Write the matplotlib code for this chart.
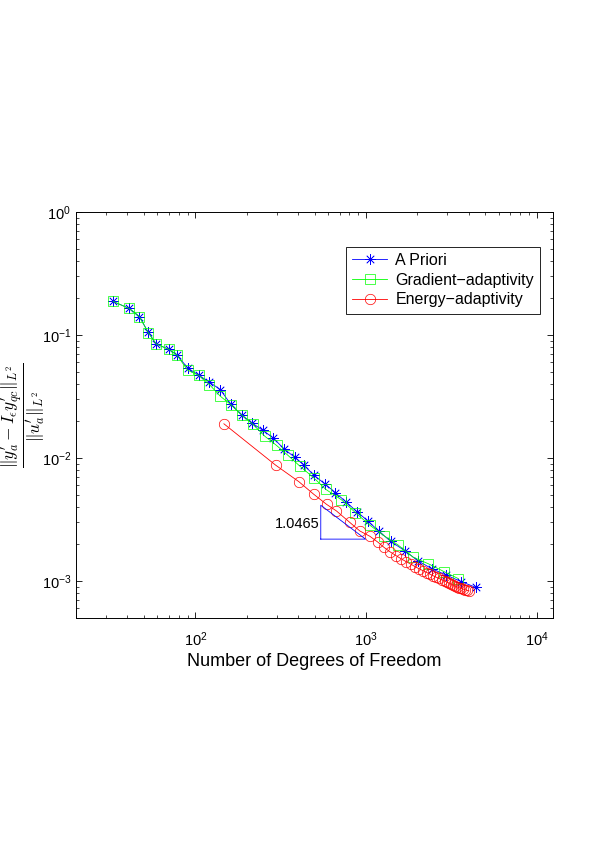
import numpy as np
import matplotlib.pyplot as plt
from matplotlib.ticker import LogLocator, NullFormatter

plt.rcParams['font.family'] = ['Liberation Sans', 'DejaVu Sans']
plt.rcParams['mathtext.fontset'] = 'cm'

# A Priori
dof_priori = [33, 41, 47, 53, 59, 70, 78, 90, 105, 121, 140, 161, 187, 214, 249, 285,
              330, 381, 434, 496, 573, 661, 764, 883, 1029, 1192, 1394, 1689, 2013,
              2422, 2938, 3597, 4406]
err_priori = [0.1873, 0.1643, 0.1413, 0.1050, 0.0845, 0.0764, 0.0688, 0.0541, 0.0469,
              0.0414, 0.0360, 0.0274, 0.02237, 0.01933, 0.01674, 0.01461, 0.01189,
              0.01017, 0.00871, 0.00723, 0.00617, 0.00523, 0.00439, 0.00367, 0.00306,
              0.00253, 0.00210, 0.00176, 0.00146, 0.00126, 0.00112, 0.00099, 0.000887]

# Gradient-adaptivity
dof_grad = [33, 41, 47, 53, 59, 70, 78, 90, 105, 121, 140, 161, 187, 218, 255, 299,
            349, 409, 494, 581, 718, 866, 1053, 1277, 1543, 1889, 2319, 2871, 3469]
err_grad = [0.1873, 0.1643, 0.1413, 0.1045, 0.0845, 0.0764, 0.0688, 0.0518, 0.0469,
            0.0395, 0.0318, 0.0272, 0.0223, 0.01873, 0.01505, 0.01265, 0.0105, 0.0086,
            0.0069, 0.00556, 0.00457, 0.0036, 0.00284, 0.00233, 0.00196, 0.00156,
            0.00138, 0.00119, 0.001046]

# Energy-adaptivity
dof_energy = [147, 295, 404, 494, 587, 671, 804, 920, 1053, 1178, 1272, 1379, 1496,
              1600, 1712, 1832, 1933, 2040, 2153, 2273, 2367, 2466, 2568, 2673, 2784,
              2900, 2979, 3059, 3144, 3229, 3317, 3408, 3502, 3597, 3696, 3798, 3901,
              4008]
err_energy = [0.01897, 0.00876, 0.00642, 0.00507, 0.00420, 0.00371, 0.00299, 0.00255,
              0.00231, 0.00206, 0.00188, 0.00173, 0.00161, 0.00152, 0.00144, 0.00137,
              0.00131, 0.00126, 0.001214, 0.00117, 0.001138, 0.001106, 0.001075,
              0.00105, 0.001023, 0.000998, 0.00098, 0.000962, 0.000944, 0.000926,
              0.000909, 0.000896, 0.000882, 0.000871, 0.00086, 0.00085, 0.000841,
              0.000831]

# triangulo de pendiente
tri_x = [543, 543, 993, 543]
tri_y = [0.00219, 0.00413, 0.00219, 0.00219]
slope_txt = '1.0465'

fig = plt.figure(figsize=(5.99, 8.48), dpi=100)
ax = fig.add_axes([0.1269, 0.2712, 0.7968, 0.4788])

ax.loglog(dof_priori, err_priori, color='b', lw=0.6, marker=(8, 2, 0), ms=7.5,
          mew=0.5, label='A Priori')
ax.loglog(dof_grad, err_grad, color=(0, 1, 0), lw=0.6, marker='s', ms=6.5,
          mfc='none', mew=0.5, label='Gradient\u2212adaptivity')
ax.loglog(dof_energy, err_energy, color='r', lw=0.6, marker='o', ms=7.5,
          mfc='none', mew=0.5, label='Energy\u2212adaptivity')

ax.plot(tri_x, tri_y, color='b', lw=0.6)
ax.text(538, 0.00289, slope_txt, ha='right', va='center', fontsize=10.5)

ax.set_xlim(20, 12500)
ax.set_ylim(5e-4, 1)
ax.xaxis.set_major_locator(LogLocator(base=10, numticks=10))
ax.yaxis.set_major_locator(LogLocator(base=10, numticks=10))
ax.xaxis.set_minor_locator(LogLocator(base=10, subs=np.arange(2, 10), numticks=20))
ax.yaxis.set_minor_locator(LogLocator(base=10, subs=np.arange(2, 10), numticks=20))
ax.xaxis.set_minor_formatter(NullFormatter())
ax.yaxis.set_minor_formatter(NullFormatter())
ax.tick_params(which='both', direction='in', top=True, right=True, labelsize=10.5)
ax.tick_params(which='major', length=4, width=0.6)
ax.tick_params(which='minor', length=2, width=0.5)
ax.tick_params(axis='x', which='major', pad=9)
for s in ax.spines.values():
    s.set_linewidth(0.7)

ax.set_xlabel('Number of Degrees of Freedom', fontsize=13, labelpad=3)
ax.set_ylabel(r'$\dfrac{\|y_a^\prime - I_\epsilon y_{qc}^\prime\|_{L^2}}{\|u_a^\prime\|_{L^2}}$',
              fontsize=12.5)
ax.yaxis.set_label_coords(-0.058, 0.5)

leg = ax.legend(loc='upper right', bbox_to_anchor=(0.973, 0.915), fontsize=11.5,
                fancybox=False, framealpha=1, edgecolor='k', borderpad=0.4,
                handlelength=2.2, handletextpad=0.5, labelspacing=0.3,
                borderaxespad=0)
leg.get_frame().set_linewidth(0.6)

fig.savefig('out.png', dpi=100)
